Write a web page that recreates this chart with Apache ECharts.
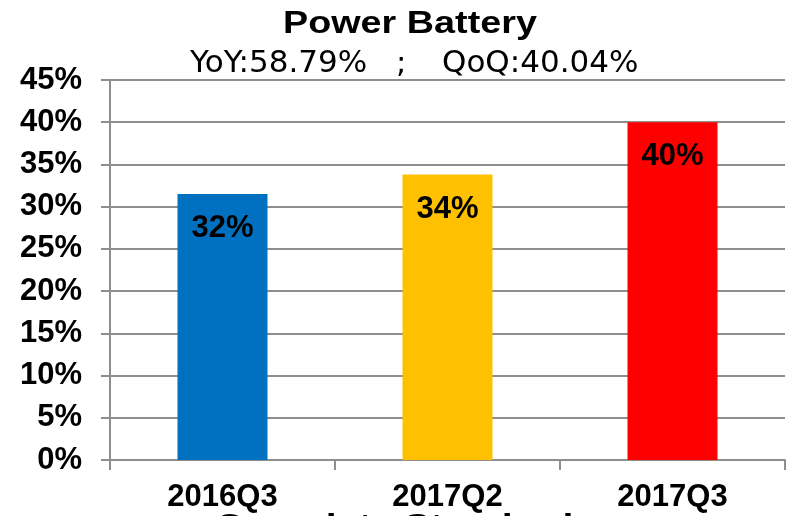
<!DOCTYPE html>
<html>
<head>
    <meta charset="utf-8">
    <title>Power Battery</title>
    <script src="https://cdn.jsdelivr.net/npm/echarts@6/dist/echarts.min.js"></script>
</head>
<body style="margin:0">
    <div id="main" style="width: 790px;height:516px;"></div>
    <script>
        // 数据
        var quarters = ['2016Q3', '2017Q2', '2017Q3'];
        var shares = [31.5, 33.8, 40.0];
        var shareLabels = ['32%', '34%', '40%'];
        var barColors = ['#0070C0', '#FFC000', '#FF0000'];
        var yTicks = [0, 5, 10, 15, 20, 25, 30, 35, 40, 45];

        var myChart = echarts.init(document.getElementById('main'));

        var boldFont = { color: '#000', fontSize: 31, fontWeight: 'bold', fontFamily: 'Liberation Sans' };

        var option = {
            backgroundColor: '#fff',
            animation: false,
            graphic: [
                {
                    type: 'text', x: 283, y: 8, scaleX: 1.18,
                    style: { text: 'Power Battery', font: 'bold 32px "Liberation Sans"', fill: '#000', textVerticalAlign: 'top' }
                },
                {
                    type: 'text', x: 190, y: 48,
                    style: { text: 'YoY:58.79%', font: '31px "DejaVu Sans"', fill: '#000', textVerticalAlign: 'top' }
                },
                {
                    type: 'text', x: 396, y: 48,
                    style: { text: ';', font: '31px "DejaVu Sans"', fill: '#000', textVerticalAlign: 'top' }
                },
                {
                    type: 'text', x: 442, y: 48,
                    style: { text: 'QoQ:40.04%', font: '31px "DejaVu Sans"', fill: '#000', textVerticalAlign: 'top' }
                },
                {
                    // 被裁掉的下方标题，只露出顶部
                    type: 'text', x: 215, y: 511, scaleX: 1.15,
                    style: { text: 'Complete Standard', font: 'bold 34px "Liberation Sans"', fill: '#000', textVerticalAlign: 'top' }
                }
            ],
            grid: { left: 110, right: 5, top: 80, bottom: 56 },
            xAxis: {
                type: 'category',
                data: quarters,
                axisLine: { lineStyle: { color: '#8e8e8e', width: 2 } },
                axisTick: { show: true, length: 10, lineStyle: { color: '#8e8e8e', width: 2 } },
                axisLabel: Object.assign({ margin: 22 }, boldFont)
            },
            yAxis: {
                type: 'value',
                min: yTicks[0],
                max: yTicks[yTicks.length - 1],
                interval: 5,
                axisLine: { show: true, lineStyle: { color: '#8e8e8e', width: 2 } },
                axisTick: { show: true, length: 9, lineStyle: { color: '#8e8e8e', width: 2 } },
                splitLine: { lineStyle: { color: '#8e8e8e', width: 2 } },
                axisLabel: Object.assign({ margin: 28, formatter: '{value}%' }, boldFont)
            },
            series: [{
                type: 'bar',
                barWidth: '40%',
                data: shares.map(function (v, i) {
                    return { value: v, itemStyle: { color: barColors[i] } };
                }),
                label: Object.assign({
                    show: true,
                    position: 'insideTop',
                    distance: 19,
                    formatter: function (p) { return shareLabels[p.dataIndex]; }
                }, boldFont)
            }]
        };

        myChart.setOption(option);
    </script>
</body>
</html>
